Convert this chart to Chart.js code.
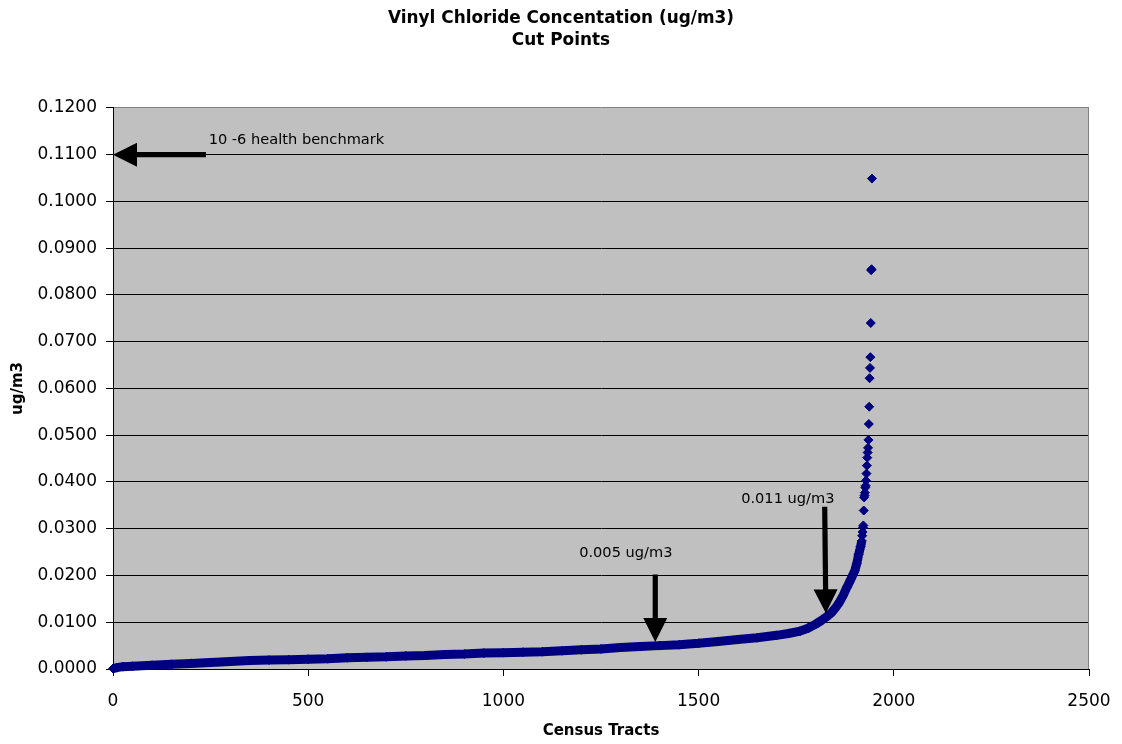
<!DOCTYPE html>
<html><head><meta charset="utf-8">
<script src="https://cdn.jsdelivr.net/npm/chart.js@4/dist/chart.umd.min.js"></script>
<style>html,body{margin:0;padding:0;background:#fff}#wrap{position:relative;width:1122px;height:744px}</style>
</head><body><div id="wrap"><canvas id="c"></canvas></div>
<script>
// ---- data ----
const titleLines = ['Vinyl Chloride Concentation (ug/m3)', 'Cut Points'];
const xAxisTitle = 'Census Tracts';
const yAxisTitle = 'ug/m3';
const xTicks = [0, 500, 1000, 1500, 2000, 2500];
const yTicks = [0.00, 0.01, 0.02, 0.03, 0.04, 0.05, 0.06, 0.07, 0.08, 0.09, 0.10, 0.11, 0.12];

// sorted concentrations: dense body of the curve (readings along the band)
const bodyTracts = [0, 10, 25, 50, 100, 150, 200, 250, 300, 350, 400, 450, 500, 550, 600, 650, 700, 750, 800, 850,
  900, 950, 1000, 1050, 1100, 1150, 1200, 1250, 1300, 1350, 1400, 1450, 1500, 1550, 1600, 1650, 1700, 1730, 1760, 1780,
  1800, 1815, 1830, 1840, 1850, 1860, 1870, 1880, 1890, 1900, 1905, 1910, 1915, 1918];
const bodyValues = [0.0001, 0.0003, 0.0005, 0.0006, 0.0008, 0.0010, 0.0012, 0.0014, 0.0016, 0.0018, 0.0019, 0.0020, 0.0021, 0.0022, 0.0024, 0.0025, 0.0026, 0.0028, 0.0029, 0.0031,
  0.0032, 0.0034, 0.0035, 0.0036, 0.0037, 0.0039, 0.0041, 0.0043, 0.0046, 0.0048, 0.0050, 0.0052, 0.0055, 0.0059, 0.0063, 0.0067, 0.0072, 0.0076, 0.0081, 0.0087,
  0.0096, 0.0104, 0.0113, 0.0120, 0.0130, 0.0142, 0.0157, 0.0175, 0.0192, 0.0210, 0.0225, 0.0245, 0.0262, 0.0274];
// highest tracts: separate diamonds
const tailTracts = [1919, 1920, 1921, 1922, 1923, 1924, 1925, 1926, 1927, 1928, 1929, 1930, 1931, 1932, 1933, 1934,
  1935, 1936, 1937, 1938, 1939, 1940, 1941, 1942, 1943, 1944];
const tailValues = [0.0285, 0.0293, 0.0303, 0.0307, 0.0339, 0.0367, 0.0371, 0.0377, 0.0388, 0.0392, 0.0403, 0.0418, 0.0435, 0.0452, 0.0463, 0.0473,
  0.0490, 0.0524, 0.0561, 0.0622, 0.0644, 0.0667, 0.0740, 0.0853, 0.0855, 0.1049];

const noteTexts = ['10 -6 health benchmark', '0.005 ug/m3', '0.011 ug/m3'];

// ---- annotation placement (data coordinates) ----
const notes = [
  { text: noteTexts[0], tx: 245, ty: 0.1123, from: [238, 0.110], to: [0, 0.110] },
  { text: noteTexts[1], tx: 1194, ty: 0.0239, from: [1389, 0.0202], to: [1389, 0.0058] },
  { text: noteTexts[2], tx: 1609, ty: 0.0354, from: [1823, 0.0347], to: [1826, 0.0119] }
];

const FONT = 'DejaVu Sans';
const NAVY = '#000080';

const toPts = (xs, ys) => xs.map((x, i) => ({ x: x, y: ys[i] }));

const plotBg = {
  id: 'plotBg',
  beforeDraw(chart) {
    const { ctx, chartArea: a } = chart;
    ctx.save();
    ctx.fillStyle = '#C0C0C0';
    ctx.fillRect(a.left, a.top, a.right - a.left, a.bottom - a.top);
    ctx.restore();
  },
  afterDatasetsDraw(chart) {
    const { ctx, chartArea: a } = chart;
    ctx.save();
    ctx.strokeStyle = '#808080';
    ctx.lineWidth = 1;
    ctx.beginPath();
    ctx.moveTo(Math.round(a.right) - 0.5, a.top);
    ctx.lineTo(Math.round(a.right) - 0.5, a.bottom);
    ctx.stroke();
    ctx.restore();
  }
};

function drawArrow(ctx, x1, y1, x2, y2) {
  const dx = x2 - x1, dy = y2 - y1;
  const len = Math.hypot(dx, dy);
  const ux = dx / len, uy = dy / len;
  const px = -uy, py = ux;
  const headLen = 24, headHalf = 12, shaft = 2.6;
  const bx = x2 - ux * headLen, by = y2 - uy * headLen;
  ctx.beginPath();
  ctx.moveTo(x1 + px * shaft, y1 + py * shaft);
  ctx.lineTo(bx + px * shaft, by + py * shaft);
  ctx.lineTo(bx + px * headHalf, by + py * headHalf);
  ctx.lineTo(x2, y2);
  ctx.lineTo(bx - px * headHalf, by - py * headHalf);
  ctx.lineTo(bx - px * shaft, by - py * shaft);
  ctx.lineTo(x1 - px * shaft, y1 - py * shaft);
  ctx.closePath();
  ctx.fill();
}

const notesPlugin = {
  id: 'notes',
  afterDraw(chart) {
    const { ctx } = chart;
    const xs = chart.scales.x, ys = chart.scales.y;
    ctx.save();
    ctx.fillStyle = '#000';
    ctx.font = '14.6px "' + FONT + '"';
    ctx.textAlign = 'left';
    ctx.textBaseline = 'alphabetic';
    notes.forEach(n => {
      ctx.fillText(n.text, xs.getPixelForValue(n.tx), ys.getPixelForValue(n.ty));
      drawArrow(ctx,
        xs.getPixelForValue(n.from[0]), ys.getPixelForValue(n.from[1]),
        xs.getPixelForValue(n.to[0]), ys.getPixelForValue(n.to[1]));
    });
    ctx.restore();
  }
};

new Chart(document.getElementById('c'), {
  type: 'scatter',
  data: {
    datasets: [
      {
        label: 'body',
        data: toPts(bodyTracts, bodyValues),
        showLine: true,
        borderColor: NAVY,
        borderWidth: 9,
        borderJoinStyle: 'round',
        borderCapStyle: 'butt',
        tension: 0,
        pointStyle: 'rectRot',
        pointRadius: 4.5,
        pointBackgroundColor: NAVY,
        pointBorderColor: NAVY,
        pointBorderWidth: 1,
        clip: false
      },
      {
        label: 'tail',
        data: toPts(tailTracts, tailValues),
        showLine: false,
        pointStyle: 'rectRot',
        pointRadius: 4.5,
        pointBackgroundColor: NAVY,
        pointBorderColor: NAVY,
        pointBorderWidth: 1,
        clip: false
      }
    ]
  },
  options: {
    responsive: true,
    maintainAspectRatio: false,
    animation: false,
    events: [],
    layout: { padding: { left: 0, right: 0, top: 0, bottom: 0 } },
    plugins: {
      legend: { display: false },
      tooltip: { enabled: false },
      title: {
        display: true,
        text: titleLines,
        color: '#000',
        font: { family: FONT, size: 16.9, weight: 'bold', lineHeight: 1.3 },
        padding: { top: 8, bottom: 56 }
      }
    },
    scales: {
      x: {
        type: 'linear',
        min: 0, max: 2500,
        afterBuildTicks: s => { s.ticks = xTicks.map(v => ({ value: v })); },
        afterFit: s => { s.height = 75; },
        ticks: { color: '#000', font: { family: FONT, size: 17, lineHeight: 2.25 }, padding: 6, maxRotation: 0, callback: v => String(v) },
        grid: { drawOnChartArea: false, drawTicks: true, tickLength: 7, color: '#000', tickColor: '#000' },
        border: { display: true, color: '#000', width: 1 },
        title: { display: true, text: xAxisTitle, color: '#000', font: { family: FONT, size: 15, weight: 'bold', lineHeight: 1.2 }, padding: { top: 4, bottom: 4 } }
      },
      y: {
        type: 'linear',
        min: 0, max: 0.12,
        afterBuildTicks: s => { s.ticks = yTicks.map(v => ({ value: v })); },
        afterFit: s => { s.width = 113; },
        ticks: { color: '#000', font: { family: FONT, size: 17 }, padding: 9, callback: v => Number(v).toFixed(4) },
        grid: {
          drawOnChartArea: true, drawTicks: true, tickLength: 7,
          color: c => (c.tick && Math.abs(c.tick.value - 0.12) < 1e-9) ? '#808080' : '#000',
          tickColor: '#000', lineWidth: 1
        },
        border: { display: true, color: '#000', width: 1 },
        title: { display: true, text: yAxisTitle, color: '#000', font: { family: FONT, size: 15, weight: 'bold', lineHeight: 1.2 }, padding: { top: 9, bottom: 0 } }
      },
      yRight: {
        type: 'linear',
        position: 'right',
        display: true,
        min: 0, max: 1,
        afterFit: s => { s.width = 33; },
        ticks: { display: false },
        grid: { display: false, drawOnChartArea: false, drawTicks: false },
        border: { display: false },
        title: { display: false }
      }
    }
  },
  plugins: [plotBg, notesPlugin]
});
</script>
</body></html>
